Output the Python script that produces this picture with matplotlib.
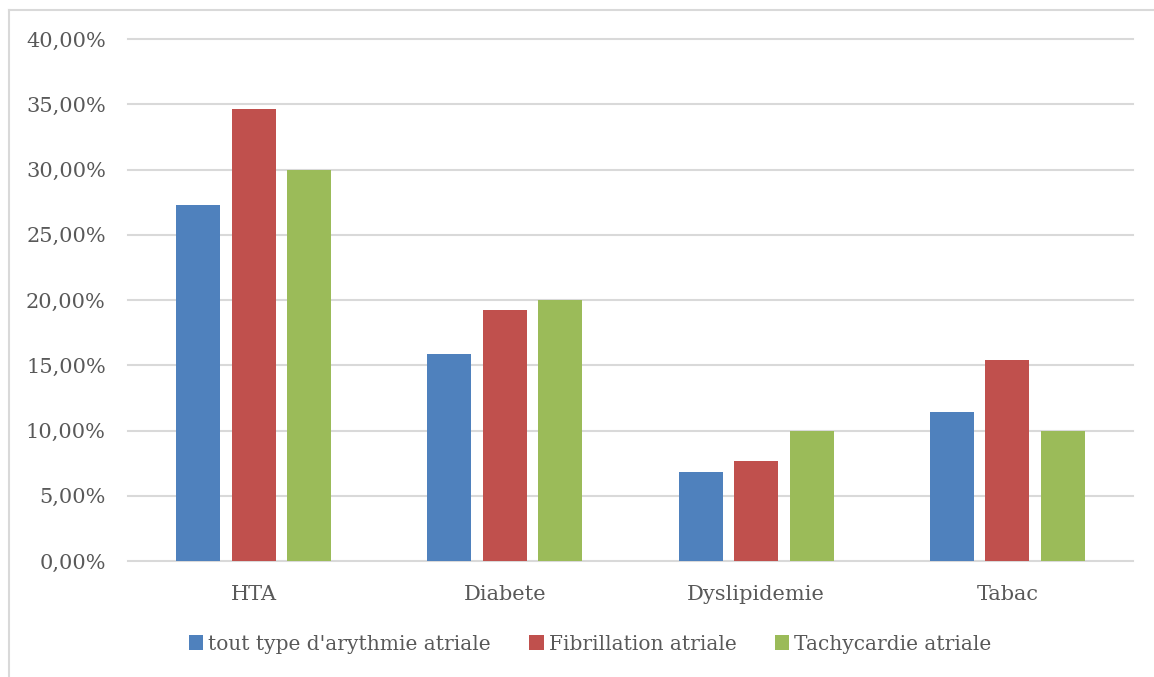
import matplotlib
matplotlib.use('Agg')
import matplotlib.pyplot as plt
from matplotlib.lines import Line2D
from matplotlib.ticker import FuncFormatter, MultipleLocator
import numpy as np

categories = ['HTA', 'Diabete', 'Dyslipidemie', 'Tabac']
series_names = ["tout type d'arythmie atriale", 'Fibrillation atriale', 'Tachycardie atriale']
arythmie = [27.3, 15.9, 6.8, 11.4]
fibrillation = [34.6, 19.2, 7.7, 15.4]
tachycardie = [30.0, 20.0, 10.0, 10.0]
colors = ['#4f81bd', '#c0504d', '#9bbb59']

plt.rcParams['font.family'] = ['DejaVu Serif']
text_color = '#595959'
grid_color = '#d9d9d9'

fig = plt.figure(figsize=(11.54, 6.77), dpi=100)
ax = fig.add_axes([128 / 1154, 1 - 561 / 677, (1133 - 128) / 1154, (561 - 39) / 677])

x = np.arange(len(categories))
width = 44 / 251.25
step = 55.5 / 251.25
for i, (vals, name) in enumerate(zip([arythmie, fibrillation, tachycardie], series_names)):
    ax.bar(x + (i - 1) * step, vals, width, color=colors[i], label=name, zorder=3)

ax.set_xlim(-0.5, len(categories) - 0.5)
ax.set_ylim(0, 40)
ax.yaxis.set_major_locator(MultipleLocator(5))
ax.yaxis.set_major_formatter(FuncFormatter(lambda v, p: ('%.2f%%' % v).replace('.', ',')))
ax.grid(axis='y', color=grid_color, linewidth=1.5, zorder=0)
for gl in ax.get_ygridlines():
    gl.set_clip_on(False)
for s in ax.spines.values():
    s.set_visible(False)
ax.tick_params(length=0, colors=text_color, labelsize=15)
ax.tick_params(axis='y', pad=16)
ax.tick_params(axis='x', pad=17)
ax.set_xticks(x)
ax.set_xticklabels(categories)

leg = fig.legend(loc='center', bbox_to_anchor=(590 / 1154, 1 - 644 / 677), ncol=3,
                 frameon=False, fontsize=14.5, handlelength=0.72, handleheight=0.72,
                 handletextpad=0.25, columnspacing=1.9)
for t in leg.get_texts():
    t.set_color(text_color)

# outer chart border (top and left edges)
fig.add_artist(Line2D([8.5 / 1154, 1], [1 - 10 / 677, 1 - 10 / 677], color='#d9d9d9', linewidth=1.5, transform=fig.transFigure))
fig.add_artist(Line2D([8.5 / 1154, 8.5 / 1154], [0, 1 - 10 / 677], color='#d9d9d9', linewidth=1.5, transform=fig.transFigure))

fig.savefig('out.png', dpi=100)
